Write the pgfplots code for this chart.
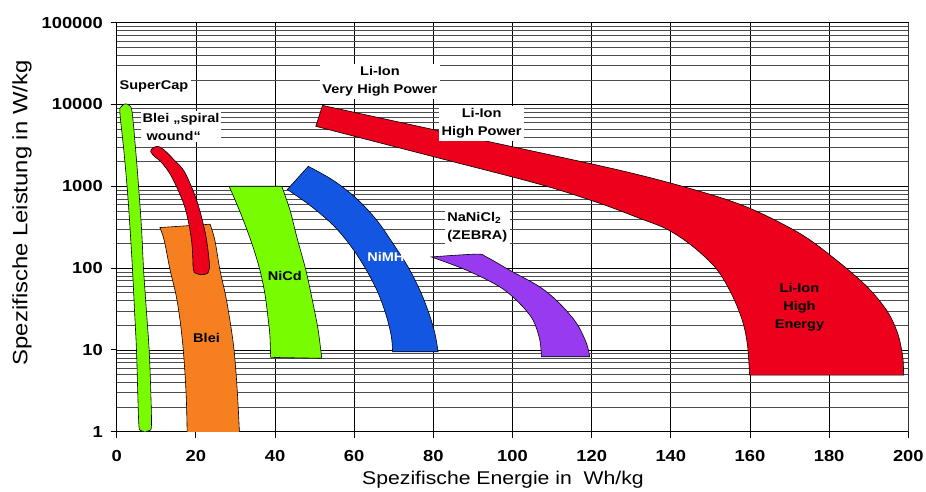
\documentclass[border=0pt]{standalone}
\usepackage{fontspec}
\setmainfont{Liberation Sans}[FakeStretch=1.15]
\usepackage{pgfplots}
\pgfplotsset{compat=1.18}
\usepgfplotslibrary{fillbetween}
\definecolor{cgreen}{RGB}{120,252,0}
\definecolor{cred}{RGB}{236,0,28}
\definecolor{corange}{RGB}{246,128,32}
\definecolor{cblue}{RGB}{18,86,226}
\definecolor{cpurple}{RGB}{152,58,240}
\newcommand{\lbl}{\bfseries\fontsize{12.7}{18}\selectfont}
\pgfplotsset{edge/.style={draw=none, smooth, tension=0.55, forget plot},
  shape/.style={fill=#1, draw=black, line width=0.6bp}}
\begin{document}
\begin{tikzpicture}
\begin{axis}[
  at={(0,0)}, anchor=south west,
  scale only axis, width=791.6bp, height=409bp,
  xmin=0, xmax=200, ymode=log, ymin=1, ymax=100000,
  xtick={0,20,...,200},
  xticklabels={0,20,40,60,80,100,120,140,160,180,200},
  ytick={1,10,100,1000,10000,100000},
  yticklabels={1,10,100,1000,10000,100000},
  minor x tick num=0,
  grid=both,
  major grid style={black, line width=0.7bp},
  minor grid style={black!70, line width=0.6bp},
  tick pos=left, tick align=outside,
  major tick length=6bp, minor tick length=0pt,
  tick style={black, line width=0.8bp},
  axis line style={black, line width=0.8bp},
  /pgf/number format/assume math mode=true,
  ticklabel style={font=\bfseries\fontsize{16}{16}\selectfont},
  xticklabel style={inner sep=0pt, yshift=-12bp},
  yticklabel style={inner sep=0pt, xshift=-7.7bp},
  xlabel={Spezifische Energie in\ \ Wh/kg},
  ylabel={Spezifische Leistung in W/kg},
  xlabel style={font=\fontsize{18.5}{20}\selectfont, at={(axis description cs:0.488,-0.117)}, anchor=center},
  ylabel style={font=\fontsize{20.8}{22}\selectfont, at={(axis description cs:-0.1196,0.535)}, anchor=center},
]
% SuperCap
\addplot[shape=cgreen, smooth, tension=0.55] coordinates {(7.2,0.99) (6.0,1.04) (5.6,1.2) (5.3,3.23) (5.0,9.95) (4.5,30.5) (4.0,94) (3.4,290) (2.7,894) (1.8,2750) (0.8,8010) (1.2,9460) (2.1,10160) (3.2,9750) (3.9,8010) (4.8,2750) (5.6,894) (6.3,290) (6.8,94) (7.5,30.5) (8.2,9.95) (8.6,3.23) (8.8,1.21) (8.4,1.04)} -- cycle;
% Blei
\addplot[edge, name path=blA] coordinates {(10.9,313) (12.0,219) (13.5,94) (15.0,46.7) (16.0,23.1) (16.7,11.5) (17.2,5.66) (17.6,2.44) (17.8,1) (17.85,0.7)};
\addplot[edge, name path=blB] coordinates {(23.6,344) (24.8,219) (26.1,94) (27.5,46.7) (28.6,23.1) (29.5,11.5) (30.1,5.66) (30.6,2.44) (31.0,1) (31.05,0.7)};
\addplot[shape=corange] fill between[of=blA and blB];
% Blei spiral wound
\addplot[shape=cred, smooth, tension=0.55] coordinates {(19.3,99.8) (18.9,219) (17.2,559) (13.9,1300) (11.3,1960) (9.7,2280) (8.6,2630) (9.0,2910) (10.3,3080) (11.8,2830) (14.6,2080) (17.2,1483) (20.2,675) (22.4,267) (23.4,118) (23.3,94) (22.8,85.5) (21.2,83) (19.6,88)} -- cycle;
% NiCd
\addplot[edge, name path=ncA] coordinates {(28.4,1000) (30.2,630) (32.0,385) (34.3,190) (36.2,94) (37.5,46.7) (38.3,23.1) (38.7,15.2) (38.9,8.1)};
\addplot[edge, name path=ncB] coordinates {(41.7,1000) (43.8,509) (45.5,240) (47.8,94) (49.6,37) (50.9,17.5) (51.8,7.9)};
\addplot[shape=cgreen] fill between[of=ncA and ncB];
% NiMH
\addplot[edge, name path=nmA] coordinates {(48.4,1754) (54.7,1183) (60.6,708) (65.7,385) (69.8,200) (73.6,103.5) (76.6,53.7) (78.9,27.9) (80.4,15.9) (81.2,9.48)};
\addplot[edge, name path=nmB] coordinates {(43.1,912) (48.8,586) (54.7,334) (59.3,181.6) (63.1,94.2) (66.1,49.0) (68.2,25.4) (69.4,14.5) (69.7,9.48)};
\addplot[shape=cblue] fill between[of=nmA and nmB];
% Li-Ion
\addplot[edge, name path=liA] coordinates {(52.0,9750) (89.2,3950) (127.1,1570) (147.3,869) (159.9,540) (172.5,267) (180.9,136) (189.2,61.8) (194.5,30.6) (197.3,16.0) (198.6,8.17) (198.8,4.92)};
\addplot[edge, name path=liB] coordinates {(50.3,5410) (81.6,2200) (106.9,1057) (122.0,620) (132.1,406) (139.0,299) (145.5,185) (151.6,96.8) (155.6,45.4) (158.2,21.8) (159.4,11.1) (159.9,4.92)};
\addplot[shape=cred] fill between[of=liA and liB];
% NaNiCl2
\addplot[edge, name path=naA] coordinates {(79.5,137) (90.9,148) (93.4,137) (99.3,94.2) (106.9,58.9) (111.9,37.0) (116.2,21.1) (118.7,12.0) (119.5,8.24)};
\addplot[edge, name path=naB] coordinates {(79.5,137) (88.4,94.2) (96.8,58.9) (101.8,37.0) (105.2,23.1) (106.9,13.2) (107.3,8.24)};
\addplot[shape=cpurple] fill between[of=naA and naB];
% right border
\draw[gray!80, line width=1.6bp] (axis cs:200,1) -- (axis cs:200,100000);
% labels
\node[fill=white, inner sep=2.5bp, font=\lbl] at (axis cs:9.42,16600) {SuperCap};
\node[fill=white, inner sep=2bp, anchor=west, align=left, font=\lbl] at (axis cs:6.0,5330) {Blei „spiral\\\hspace{4bp}wound“};
\node[fill=white, inner sep=2.5bp, align=center, font=\lbl] at (axis cs:66.5,19100) {Li-Ion\\Very High Power};
\node[fill=white, inner sep=2.5bp, align=center, font=\lbl] at (axis cs:92.2,5880) {Li-Ion\\High Power};
\node[fill=white, inner sep=2.5bp, align=left, font=\lbl] at (axis cs:91.1,318) {NaNiCl\textsubscript{2}\\(ZEBRA)};
\node[font=\lbl] at (axis cs:22.7,13.8) {Blei};
\node[font=\lbl] at (axis cs:42.5,79.6) {NiCd};
\node[font=\lbl, text=white] at (axis cs:68.0,137) {NiMH};
\node[align=center, font=\lbl] at (axis cs:172.5,33.6) {Li-Ion\\High\\Energy};
\end{axis}
\pgfresetboundingbox
\path[use as bounding box] (-116.7bp,-60.3bp) rectangle (809.3bp,431.7bp);
\end{tikzpicture}
\end{document}
